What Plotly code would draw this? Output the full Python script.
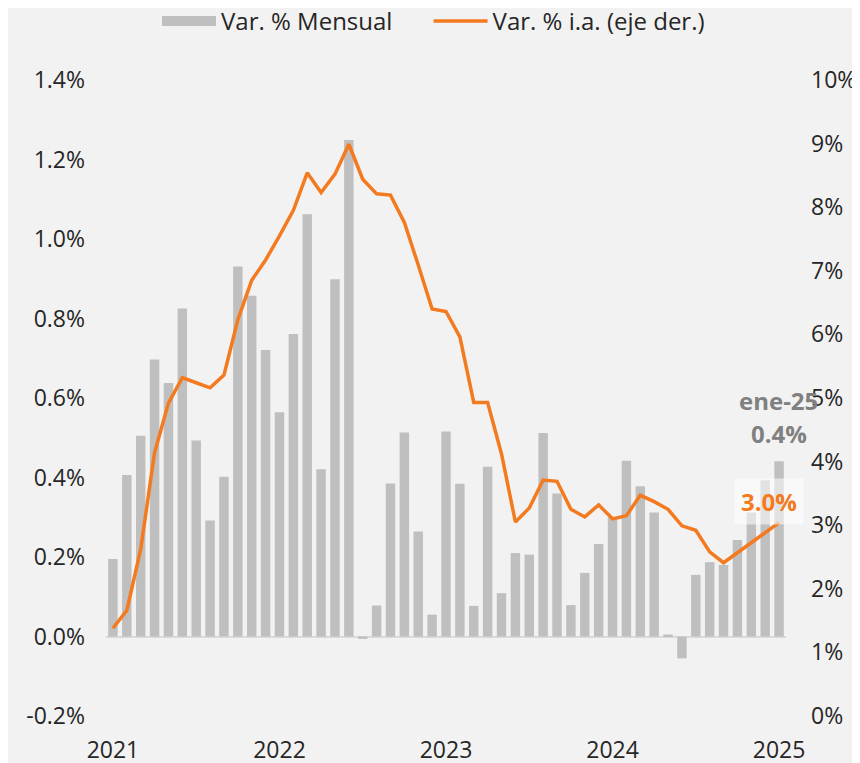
import plotly.graph_objects as go

# Colores y estilo
COLORS = {
    'background': '#F2F2F2',
    'text': '#262626',
    'bar': '#BFBFBF',
    'line': '#F47A20',
    'zero': '#D9D9D9',
    'label_gray': '#808080',
}
FONT = 'Open Sans, Noto Sans, sans-serif'
NBSP = '\u00a0'

# Datos (meses ene-21 a ene-25)
MESES = ['ene', 'feb', 'mar', 'abr', 'may', 'jun', 'jul', 'ago', 'sep', 'oct', 'nov', 'dic']
meses = [f'{m}-{a}' for a in ['21', '22', '23', '24'] for m in MESES] + ['ene-25']

var_mensual = [
    0.195, 0.406, 0.505, 0.697, 0.638, 0.825, 0.493, 0.292, 0.402, 0.931, 0.857, 0.721,
    0.564, 0.761, 1.062, 0.421, 0.899, 1.249, -0.006, 0.078, 0.385, 0.513, 0.264, 0.055,
    0.516, 0.384, 0.077, 0.427, 0.109, 0.210, 0.206, 0.512, 0.360, 0.079, 0.160, 0.233,
    0.300, 0.442, 0.378, 0.312, 0.005, -0.055, 0.155, 0.187, 0.180, 0.243, 0.312, 0.393,
    0.441,
]
var_interanual = [
    1.38, 1.66, 2.62, 4.14, 4.92, 5.32, 5.24, 5.16, 5.36, 6.23, 6.85, 7.17,
    7.55, 7.95, 8.54, 8.23, 8.52, 8.99, 8.44, 8.21, 8.19, 7.76, 7.09, 6.40,
    6.36, 5.96, 4.93, 4.93, 4.12, 3.05, 3.27, 3.71, 3.69, 3.25, 3.13, 3.32,
    3.10, 3.15, 3.47, 3.37, 3.25, 2.99, 2.92, 2.58, 2.41, 2.57, 2.73, 2.88,
    3.04,
]
ticks_anios = ['ene-21', 'ene-22', 'ene-23', 'ene-24', 'ene-25']
texto_anios = ['2021', '2022', '2023', '2024', '2025']
ticks_izq = [-0.2, 0.0, 0.2, 0.4, 0.6, 0.8, 1.0, 1.2, 1.4]

fig = go.Figure()
fig.add_trace(go.Bar(
    x=meses,
    y=[v / 100 for v in var_mensual],
    name='Var. % Mensual',
    marker_color=COLORS['bar'],
    marker_line_width=0,
    showlegend=False,
))
# entrada de leyenda con rectángulo ancho
fig.add_trace(go.Scatter(
    x=[None], y=[None],
    name='Var. % Mensual' + NBSP * 5,
    mode='lines',
    line=dict(color=COLORS['bar'], width=18),
))
fig.add_trace(go.Scatter(
    x=meses,
    y=[v / 100 for v in var_interanual],
    name='Var. % i.a. (eje der.)',
    mode='lines',
    line=dict(color=COLORS['line'], width=3.5),
    yaxis='y2',
))

# Etiquetas del último dato
fig.add_annotation(
    x=meses[-1], y=var_mensual[-1] / 100, xref='x', yref='y',
    text='<b>ene-25</b>', showarrow=False, yshift=61, xshift=-1,
    font=dict(size=24, color=COLORS['label_gray'], family=FONT),
)
fig.add_annotation(
    x=meses[-1], y=var_mensual[-1] / 100, xref='x', yref='y',
    text='<b>%.1f%%</b>' % var_mensual[-1], showarrow=False, yshift=28, xshift=0,
    font=dict(size=24, color=COLORS['label_gray'], family=FONT),
)
fig.add_annotation(
    x=meses[-1], y=var_interanual[-1] / 100, xref='x', yref='y2',
    text='<b>%.1f%%</b>' % var_interanual[-1], showarrow=False, yshift=21, xshift=-10,
    font=dict(size=24, color=COLORS['line'], family=FONT),
    bgcolor='rgba(255,255,255,0.55)', borderpad=6,
)

# la página deja 8px de margen en el body: figura de 852x755
fig.update_layout(
    width=852,
    height=755,
    paper_bgcolor=COLORS['background'],
    plot_bgcolor=COLORS['background'],
    font=dict(family=FONT, size=23, color=COLORS['text']),
    margin=dict(l=98, r=74, t=72, b=47, autoexpand=False),
    bargap=0.32,
    showlegend=True,
    legend=dict(
        orientation='h', x=0.075, xanchor='left', y=1.092, yanchor='middle',
        font=dict(size=24, color=COLORS['text']), itemwidth=54,
        bgcolor='rgba(0,0,0,0)', traceorder='normal',
    ),
    xaxis=dict(
        type='category',
        range=[-0.5, 48.5],
        tickvals=ticks_anios,
        ticktext=texto_anios,
        showgrid=False,
        showline=False,
        zeroline=False,
        ticks='',
        ticklabelstandoff=18,
    ),
    yaxis=dict(
        range=[-0.002, 0.014],
        tickvals=[t / 100 for t in ticks_izq],
        ticktext=['%.1f%%' % t for t in ticks_izq],
        showgrid=False,
        zeroline=True,
        zerolinecolor=COLORS['zero'],
        zerolinewidth=2,
        ticks='',
        ticklabelstandoff=20,
    ),
    yaxis2=dict(
        overlaying='y',
        side='right',
        range=[0, 0.10],
        dtick=0.01,
        tickformat='.0%',
        showgrid=False,
        zeroline=False,
        ticks='',
        ticklabelstandoff=24,
    ),
)

fig.write_html("out.html")
